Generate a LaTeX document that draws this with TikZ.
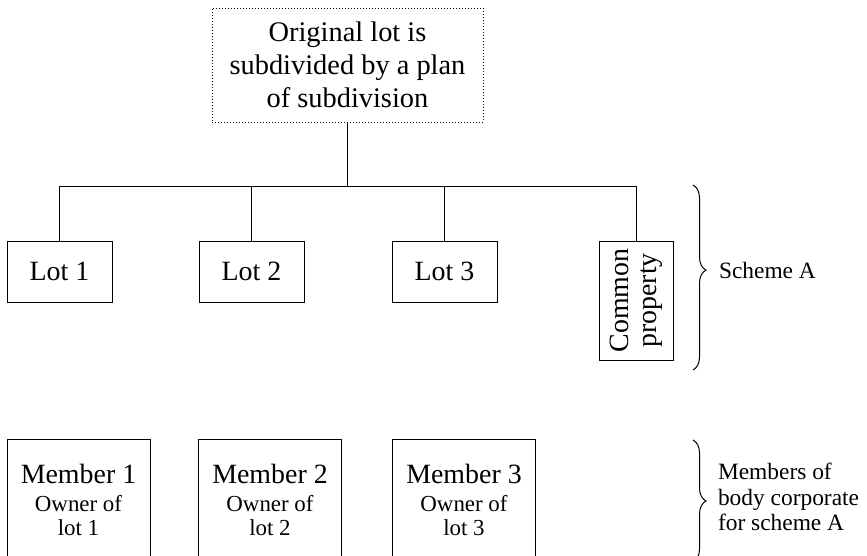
\documentclass[tikz,border=0pt]{standalone}
\usepackage{fontspec}
\setmainfont{Liberation Serif}
\usetikzlibrary{decorations.pathreplacing}
\begin{document}
\begin{tikzpicture}[x=1bp,y=-1bp,
  every node/.style={inner sep=0pt, outer sep=0pt},
  conn/.style={line width=0.9bp},
  topbox/.style={draw, line width=0.9bp, dash pattern=on 0.9bp off 2.1bp, minimum width=271bp, minimum height=114bp, align=center, font=\fontsize{28.5}{33}\selectfont},
  lotbox/.style={draw, line width=0.9bp, minimum width=105bp, minimum height=61bp, font=\fontsize{28}{32}\selectfont},
  cpbox/.style={draw, line width=0.9bp, minimum width=74bp, minimum height=119bp},
  memberbox/.style={draw, line width=0.9bp, minimum width=143bp, minimum height=170bp, anchor=north},
  memtext/.style={align=center, font=\fontsize{23}{24.5}\selectfont},
  brc/.style={line width=1bp, decorate, decoration={brace, amplitude=13bp}},
  side/.style={anchor=west, align=left, font=\fontsize{23.5}{25.5}\selectfont}
]
\useasboundingbox (0,0) rectangle (867,556);
\clip (0,0) rectangle (867,556);

\node[topbox] (orig) at (347.5,65) {Original lot is\\subdivided by a plan\\of subdivision};

\node[lotbox] (lot1) at (59.5,271.5) {Lot 1};
\node[lotbox] (lot2) at (251.5,271.5) {Lot 2};
\node[lotbox] (lot3) at (444.5,271.5) {Lot 3};
\node[cpbox] (cp) at (636,300.5) {};
\node[rotate=90, align=center, font=\fontsize{28}{28}\selectfont] (cptext) at (cp.center) {Common\\property};

\coordinate (bus) at (347.5,186.5);
\draw[conn] (orig.south) -- (bus);
\draw[conn] (lot1.north) |- (bus) -| (cp.north);
\draw[conn] (lot2.north) -- (lot2.north |- bus);
\draw[conn] (lot3.north) -- (lot3.north |- bus);

\node[memberbox] (m1) at (78.5,439) {};
\node[memberbox] (m2) at (270,439) {};
\node[memberbox] (m3) at (464,439) {};
\node[memtext] (t1) at (78.5,500) {{\fontsize{28}{28}\selectfont Member 1}\\[3bp]Owner of\\lot 1};
\node[memtext] (t2) at (270,500) {{\fontsize{28}{28}\selectfont Member 2}\\[3bp]Owner of\\lot 2};
\node[memtext] (t3) at (464,500) {{\fontsize{28}{28}\selectfont Member 3}\\[3bp]Owner of\\lot 3};

\coordinate (b1s) at (693,185);
\coordinate (b1e) at (693,370);
\draw[brc, decoration={aspect=0.46}] (b1s) -- (b1e);
\node[side] (scheme) at (719,270) {Scheme A};

\coordinate (b2s) at (693,440);
\coordinate (b2e) at (693,562);
\draw[brc] (b2s) -- (b2e);
\node[side] (members) at (718,497) {Members of\\body corporate\\for scheme A};
\end{tikzpicture}
\end{document}
